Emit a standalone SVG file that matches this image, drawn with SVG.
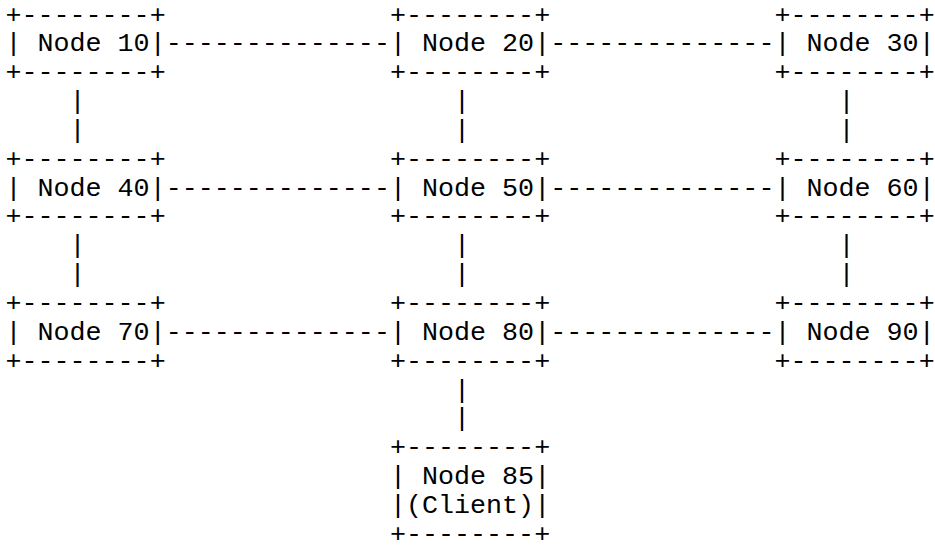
<svg xmlns="http://www.w3.org/2000/svg" width="935" height="550" viewBox="0 0 935 550">
<style>
text{font-family:"Liberation Mono","DejaVu Sans Mono",monospace;font-size:26.69px;fill:#000;white-space:pre}
</style>
<rect width="935" height="550" fill="#fff"/>
<g id="connectors">
<text x="165.7" y="51.35">--------------</text>
<text x="550.2" y="51.35">--------------</text>
<text x="165.7" y="195.6">--------------</text>
<text x="550.2" y="195.6">--------------</text>
<text x="165.7" y="339.85">--------------</text>
<text x="550.2" y="339.85">--------------</text>
<text x="69.6" y="109.05">|</text><text x="69.6" y="137.9">|</text>
<text x="454.1" y="109.05">|</text><text x="454.1" y="137.9">|</text>
<text x="838.5" y="109.05">|</text><text x="838.5" y="137.9">|</text>
<text x="69.6" y="253.3">|</text><text x="69.6" y="282.15">|</text>
<text x="454.1" y="253.3">|</text><text x="454.1" y="282.15">|</text>
<text x="838.5" y="253.3">|</text><text x="838.5" y="282.15">|</text>
<text x="454.1" y="397.55">|</text><text x="454.1" y="426.4">|</text>
</g>
<g id="node10">
<text x="5.5" y="22.5">+--------+</text>
<text x="5.5" y="51.35">| Node 10|</text>
<text x="5.5" y="80.2">+--------+</text>
</g>
<g id="node20">
<text x="390" y="22.5">+--------+</text>
<text x="390" y="51.35">| Node 20|</text>
<text x="390" y="80.2">+--------+</text>
</g>
<g id="node30">
<text x="774.5" y="22.5">+--------+</text>
<text x="774.5" y="51.35">| Node 30|</text>
<text x="774.5" y="80.2">+--------+</text>
</g>
<g id="node40">
<text x="5.5" y="166.75">+--------+</text>
<text x="5.5" y="195.6">| Node 40|</text>
<text x="5.5" y="224.45">+--------+</text>
</g>
<g id="node50">
<text x="390" y="166.75">+--------+</text>
<text x="390" y="195.6">| Node 50|</text>
<text x="390" y="224.45">+--------+</text>
</g>
<g id="node60">
<text x="774.5" y="166.75">+--------+</text>
<text x="774.5" y="195.6">| Node 60|</text>
<text x="774.5" y="224.45">+--------+</text>
</g>
<g id="node70">
<text x="5.5" y="311.0">+--------+</text>
<text x="5.5" y="339.85">| Node 70|</text>
<text x="5.5" y="368.7">+--------+</text>
</g>
<g id="node80">
<text x="390" y="311.0">+--------+</text>
<text x="390" y="339.85">| Node 80|</text>
<text x="390" y="368.7">+--------+</text>
</g>
<g id="node90">
<text x="774.5" y="311.0">+--------+</text>
<text x="774.5" y="339.85">| Node 90|</text>
<text x="774.5" y="368.7">+--------+</text>
</g>
<g id="node85">
<text x="390" y="455.25">+--------+</text>
<text x="390" y="484.1">| Node 85|</text>
<text x="390" y="512.95">|(Client)|</text>
<text x="390" y="541.8">+--------+</text>
</g>
</svg>
